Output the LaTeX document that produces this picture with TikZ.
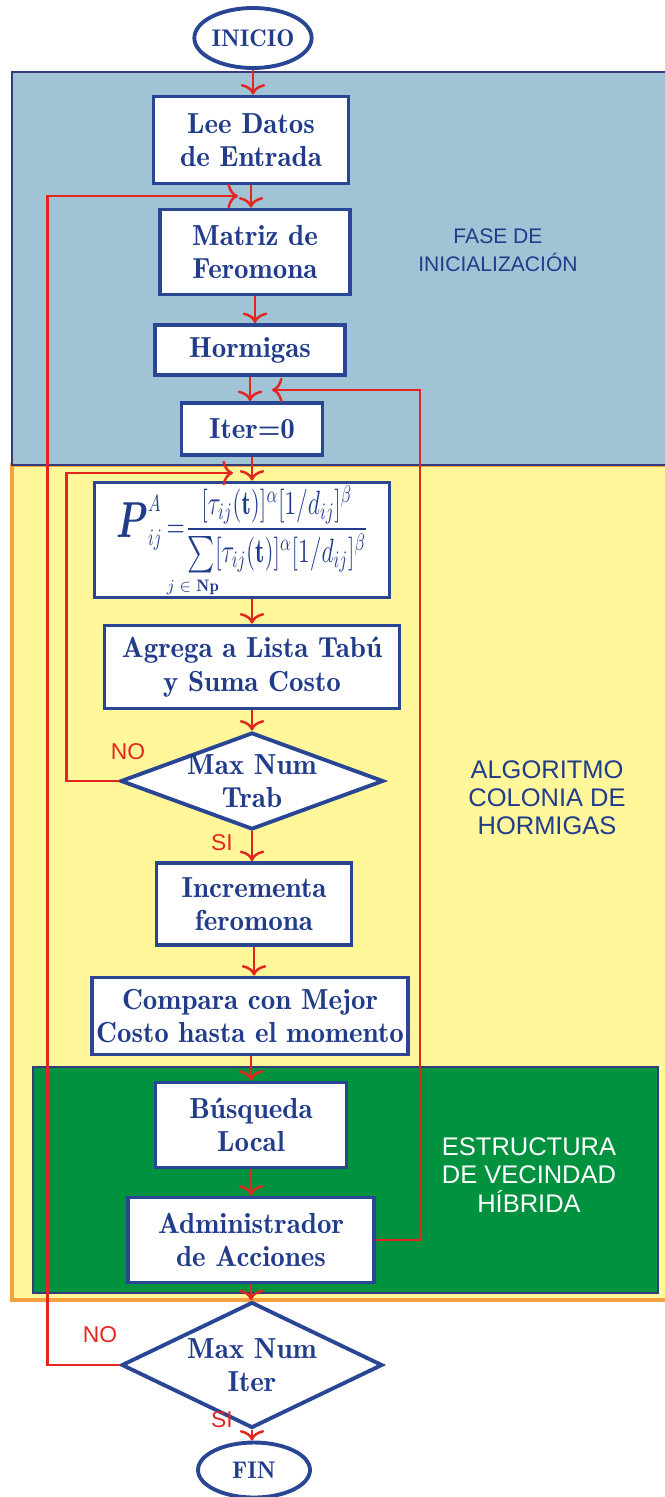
\documentclass[tikz,border=0pt]{standalone}
\usepackage{fix-cm}
\usepackage{amsmath,bm}
\usepackage{fontspec}
\setmainfont{Latin Modern Roman Demi}
\setsansfont{Liberation Sans}
\usetikzlibrary{shapes.geometric,arrows.meta}
\definecolor{rojo}{RGB}{226,38,30}
\definecolor{azulborde}{RGB}{40,70,148}
\definecolor{azultexto}{RGB}{34,60,140}
\definecolor{celeste}{RGB}{160,195,213}
\definecolor{amarillo}{RGB}{255,247,153}
\definecolor{verde}{RGB}{0,146,63}
\definecolor{naranja}{RGB}{244,160,64}
\definecolor{marino}{RGB}{52,58,122}
\begin{document}
\begin{tikzpicture}[x=0.02cm,y=-0.02cm,
  caja/.style={draw=azulborde,line width=2.2pt,fill=white,text=azultexto,align=center,
    inner sep=0pt,font=\fontsize{16.5}{19}\selectfont},
  rombo/.style={caja,diamond,inner xsep=-10pt,inner ysep=-6pt},
  terminal/.style={caja,ellipse,font=\fontsize{13.7}{16}\selectfont},
  flecha/.style={draw=rojo,line width=1.6pt,
    -{Computer Modern Rightarrow[length=6pt,width=14pt,line width=1.4pt]}},
  sino/.style={text=rojo,font=\sffamily\fontsize{13}{15}\selectfont},
  fase/.style={align=center,font=\sffamily\fontsize{14.5}{16}\selectfont}]
% diagrama de flujo: colonia de hormigas con vecindad hibrida
\useasboundingbox (0,0) rectangle (665,1497);
\filldraw[fill=amarillo,draw=naranja,line width=2pt] (12,465) rectangle (668,1300);
\filldraw[fill=celeste,draw=marino,line width=1.5pt] (12,72) rectangle (668,465);
\filldraw[fill=verde,draw=marino,line width=1.5pt] (33,1067) rectangle (658,1293);
\node[fase,text=azultexto,font=\sffamily\fontsize{12}{16}\selectfont] (fase1) at (498,250) {FASE DE\\INICIALIZACIÓN};
\node[fase,text=azultexto] (fase2) at (547,798) {ALGORITMO\\COLONIA DE\\HORMIGAS};
\node[fase,text=white] (fase3) at (529,1175) {ESTRUCTURA\\DE VECINDAD\\HÍBRIDA};
\node[terminal,minimum width=2.28cm,minimum height=1.2cm] (inicio) at (253,38) {INICIO};
\node[caja,minimum width=3.9cm,minimum height=1.74cm] (lee) at (251,140) {Lee Datos\\de Entrada};
\node[caja,minimum width=3.8cm,minimum height=1.7cm] (matriz) at (255,252) {Matriz de\\Feromona};
\node[caja,minimum width=3.8cm,minimum height=1.0cm] (hormigas) at (250,350) {Hormigas};
\node[caja,minimum width=2.82cm,minimum height=1.04cm] (iter) at (252,429) {Iter=0};
\node[caja,minimum width=5.9cm,minimum height=2.3cm,font=\fontsize{16}{18}\selectfont] (prob) at (242,540)
  {\scalebox{0.85}[1.2]{$\scalebox{1.5}{$\bm{P}$}^{A}_{ij}\mkern3mu{=}\mkern1mu\dfrac{[\tau_{ij}(\mathrm{t})]^{\alpha}[1/d_{ij}]^{\beta}}{\textstyle\sum[\tau_{ij}(\mathrm{t})]^{\alpha}[1/d_{ij}]^{\beta}}$}\\[3pt]
   \hspace*{-56pt}{\fontsize{9.5}{10}\selectfont$j\in$ Np}};
\node[caja,minimum width=5.9cm,minimum height=1.66cm] (agrega) at (252,667) {Agrega a Lista Tabú\\y Suma Costo};
\node[rombo,aspect=2.7,minimum width=5.26cm,minimum height=1.94cm] (trab) at (252,781) {Max Num\\Trab};
\node[caja,minimum width=3.9cm,minimum height=1.64cm] (incr) at (254,904) {Incrementa\\feromona};
\node[caja,minimum width=6.32cm,minimum height=1.54cm] (compara) at (250,1016) {Compara con Mejor\\Costo hasta el momento};
\node[caja,minimum width=3.82cm,minimum height=1.7cm] (busq) at (251,1125) {Búsqueda\\Local};
\node[caja,minimum width=4.92cm,minimum height=1.7cm] (admin) at (251,1240) {Administrador\\de Acciones};
\node[rombo,aspect=2.1,minimum width=5.22cm,minimum height=2.52cm] (maxiter) at (252,1365) {Max Num\\Iter};
\node[terminal,minimum width=2.24cm,minimum height=1.1cm] (fin) at (254,1470) {FIN};
\draw[flecha] (inicio.south) -- (inicio.south |- lee.north);
\draw[flecha] (lee.south) -- (lee.south |- matriz.north);
\draw[flecha] (matriz.south) -- (matriz.south |- hormigas.north);
\draw[flecha] (hormigas.south) -- (hormigas.south |- iter.north);
\draw[flecha] (iter.south) -- (iter.south |- prob.north);
\draw[flecha] (agrega.north |- prob.south) -- (agrega.north);
\draw[flecha] (agrega.south) -- (trab.north);
\draw[flecha] (trab.south) -- (trab.south |- incr.north);
\draw[flecha] (incr.south) -- (incr.south |- compara.north);
\draw[flecha] (busq.north |- compara.south) -- (busq.north);
\draw[flecha] (busq.south) -- (busq.south |- admin.north);
\draw[flecha] (admin.south) -- (admin.south |- maxiter.north);
\draw[flecha] (maxiter.south) -- (maxiter.south |- fin.north);
\coordinate (r1) at (233,473);
\coordinate (r2) at (238,196);
\coordinate (r3) at (272,390);
\draw[flecha] (trab.west) -- ++(-52,0) |- (r1);
\draw[flecha] (maxiter.west) -- ++(-72,0) |- (r2);
\draw[flecha] (admin.east) -- ++(44,0) |- (r3);
\node[sino] (no1) at (128,752) {NO};
\node[sino] (si1) at (222,843) {SI};
\node[sino] (no2) at (100,1335) {NO};
\node[sino] (si2) at (222,1420) {SI};
\end{tikzpicture}
\end{document}
